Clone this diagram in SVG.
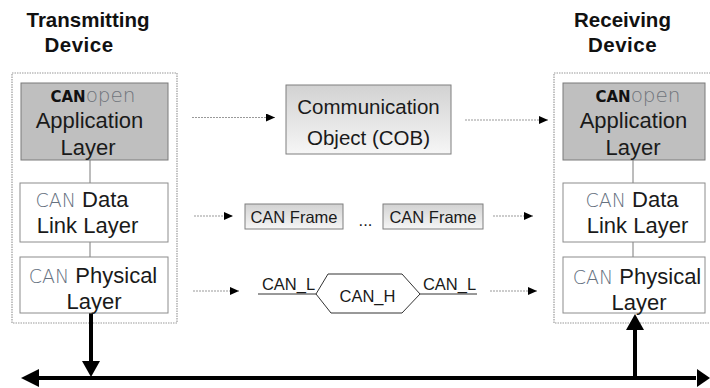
<svg xmlns="http://www.w3.org/2000/svg" width="710" height="388" viewBox="0 0 710 388">
<defs>
<style>
.t{font-family:"Liberation Sans",Arial,sans-serif;fill:#1a1a1a;}
.title{font-family:"Liberation Sans",Arial,sans-serif;font-weight:bold;font-size:20.5px;fill:#111;}
.lay{font-size:22px;}
.can{font-family:"DejaVu Sans",sans-serif;font-weight:200;fill:#66717f;}
.canb{font-family:"DejaVu Sans",sans-serif;font-weight:bold;fill:#111;}
.open{font-family:"DejaVu Sans",sans-serif;font-weight:200;fill:#6f747b;}
.dev{fill:none;stroke:#9a9a9a;stroke-width:1.2;stroke-dasharray:1.5 1;}
.gbox{fill:#bfbfbf;stroke:#7a7a7a;stroke-width:1;}
.wbox{fill:#ffffff;stroke:#8c8c8c;stroke-width:1;}
.link{stroke:#7a7a7a;stroke-width:1;fill:none;}
.dot{stroke:#999;stroke-width:1;stroke-dasharray:2 1;fill:none;marker-end:url(#ah);}
.bus{stroke:#000;stroke-width:4;fill:none;}
.grad{fill:url(#g);stroke:#7f7f7f;stroke-width:1;}
</style>
<linearGradient id="g" x1="0" y1="0" x2="0" y2="1">
<stop offset="0" stop-color="#d2d2d2"/>
<stop offset="1" stop-color="#f6f6f6"/>
</linearGradient>
<marker id="ah" markerWidth="9" markerHeight="8" refX="9" refY="4" orient="auto" markerUnits="userSpaceOnUse">
<path d="M0,0 L9,4 L0,8 Z" fill="#000"/>
</marker>
</defs>

<g id="tx-title">
<text class="title" x="88" y="27" text-anchor="middle">Transmitting</text>
<text class="title" x="79" y="52" text-anchor="middle" letter-spacing="0.5">Device</text>
</g>
<g id="rx-title">
<text class="title" x="622.5" y="27" text-anchor="middle">Receiving</text>
<text class="title" x="622.5" y="52" text-anchor="middle" letter-spacing="0.5">Device</text>
</g>

<g id="tx-device">
<rect class="dev" x="12" y="73" width="165" height="250"/>
</g>
<g id="rx-device">
<rect class="dev" x="554" y="73" width="160" height="250"/>
</g>

<g id="connectors">
<line class="link" x1="90" y1="160" x2="90" y2="183"/>
<line class="link" x1="90" y1="242" x2="90" y2="257"/>
<line class="link" x1="633" y1="160" x2="633" y2="183"/>
<line class="link" x1="633" y1="242" x2="633" y2="257"/>
<line class="dot" x1="192" y1="117.5" x2="275" y2="117.5"/>
<line class="dot" x1="465" y1="120" x2="548" y2="120"/>
<line class="dot" x1="194" y1="216" x2="233" y2="216"/>
<line class="dot" x1="493" y1="216" x2="533" y2="216"/>
<line class="dot" x1="193" y1="291" x2="239" y2="291"/>
<line class="dot" x1="490" y1="291" x2="537" y2="291"/>
<line class="bus" x1="36" y1="378" x2="696" y2="378"/>
<path d="M21,378 L39,369 L39,387 Z" fill="#000"/>
<path d="M710,378 L697,369 L697,387 Z" fill="#000"/>
<line class="bus" x1="91" y1="313" x2="91" y2="363"/>
<path d="M91,377 L82,361 L100,361 Z" fill="#000"/>
<line class="bus" x1="635" y1="328" x2="635" y2="378"/>
<path d="M635,314 L626,330 L644,330 Z" fill="#000"/>
<line stroke="#333" stroke-width="1" x1="258" y1="294" x2="316" y2="294"/>
<line stroke="#333" stroke-width="1" x1="420" y1="294" x2="477" y2="294"/>
</g>

<g id="tx-app">
<rect class="gbox" x="21" y="83" width="147" height="77"/>
<text x="93" y="102" text-anchor="middle"><tspan class="canb" font-size="15">CAN</tspan><tspan class="open" font-size="20">open</tspan></text>
<text class="t lay" x="89.5" y="128" text-anchor="middle">Application</text>
<text class="t lay" x="88" y="155" text-anchor="middle">Layer</text>
</g>
<g id="tx-dll">
<rect class="wbox" x="20" y="183" width="148" height="59"/>
<text class="t lay" x="82" y="207" text-anchor="middle"><tspan class="can" font-size="19">CAN</tspan> Data</text>
<text class="t lay" x="87.5" y="233" text-anchor="middle">Link Layer</text>
</g>
<g id="tx-phy">
<rect class="wbox" x="20" y="257" width="148" height="56"/>
<text class="t lay" x="93" y="283" text-anchor="middle"><tspan class="can" font-size="19">CAN</tspan> Physical</text>
<text class="t lay" x="94" y="309" text-anchor="middle">Layer</text>
</g>

<g id="rx-app">
<rect class="gbox" x="563" y="83" width="142" height="77"/>
<text x="638" y="102" text-anchor="middle"><tspan class="canb" font-size="15">CAN</tspan><tspan class="open" font-size="20">open</tspan></text>
<text class="t lay" x="633.5" y="128" text-anchor="middle">Application</text>
<text class="t lay" x="633" y="155" text-anchor="middle">Layer</text>
</g>
<g id="rx-dll">
<rect class="wbox" x="563" y="183" width="142" height="59"/>
<text class="t lay" x="632" y="207" text-anchor="middle"><tspan class="can" font-size="19">CAN</tspan> Data</text>
<text class="t lay" x="637.5" y="233" text-anchor="middle">Link Layer</text>
</g>
<g id="rx-phy">
<rect class="wbox" x="563" y="257" width="142" height="56"/>
<text class="t lay" x="637" y="284" text-anchor="middle"><tspan class="can" font-size="19">CAN</tspan> Physical</text>
<text class="t lay" x="639" y="310" text-anchor="middle">Layer</text>
</g>

<g id="cob">
<rect class="grad" x="286" y="85" width="165" height="69"/>
<text class="t" font-size="20.5" x="368.5" y="114" text-anchor="middle">Communication</text>
<text class="t" font-size="20.5" x="368.5" y="145" text-anchor="middle">Object (COB)</text>
</g>

<g id="frame1">
<rect class="grad" x="245" y="204" width="98" height="25"/>
<text class="t" font-size="16.5" x="294" y="223" text-anchor="middle">CAN Frame</text>
</g>
<g id="ellipsis">
<text class="t" font-size="16.5" x="365.5" y="226" text-anchor="middle">...</text>
</g>
<g id="frame2">
<rect class="grad" x="383" y="204" width="100" height="25"/>
<text class="t" font-size="16.5" x="433" y="223" text-anchor="middle">CAN Frame</text>
</g>

<g id="can-h">
<polygon points="316,294 328,274 402,274 420,294 402,313 331,313" fill="#fff" stroke="#333" stroke-width="1"/>
<text class="t" font-size="16.5" x="367.5" y="302" text-anchor="middle">CAN_H</text>
</g>
<g id="can-l-left">
<text class="t" font-size="16.5" x="288.5" y="290" text-anchor="middle">CAN_L</text>
</g>
<g id="can-l-right">
<text class="t" font-size="16.5" x="449.5" y="290" text-anchor="middle">CAN_L</text>
</g>
</svg>
